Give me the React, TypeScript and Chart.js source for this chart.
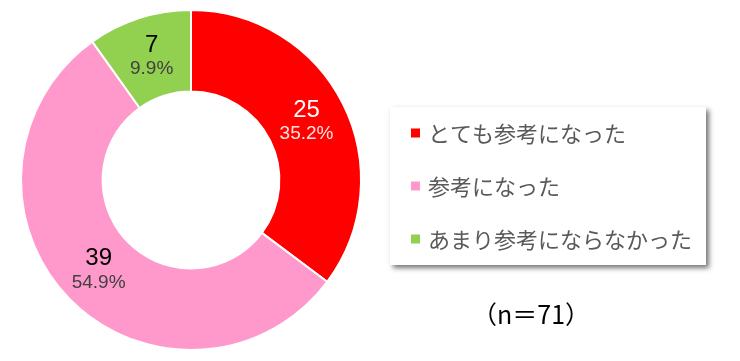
import React, { useEffect, useRef } from "react";
import { Chart, registerables } from "chart.js";

Chart.register(...registerables);

const categories = ["とても参考になった", "参考になった", "あまり参考にならなかった"];
const counts = [25, 39, 7];
const colors = ["#FF0000", "#FF99CC", "#92D050"];
const numberColors = ["#FFFFFF", "#000000", "#000000"];
const percentColors = ["#FFE0E0", "#404040", "#404040"];

const total = counts.reduce((a, b) => a + b, 0);

const labelPlugin = {
  id: "sliceLabels",
  afterDatasetsDraw(chart: any) {
    const ctx = chart.ctx;
    const meta = chart.getDatasetMeta(0);
    ctx.save();
    ctx.textAlign = "center";
    ctx.textBaseline = "middle";
    meta.data.forEach((arc: any, i: number) => {
      const p = arc.tooltipPosition();
      const v = counts[i];
      const pct = ((v / total) * 100).toFixed(1) + "%";
      ctx.fillStyle = numberColors[i];
      ctx.font = "24px 'Liberation Sans', Arial, sans-serif";
      ctx.fillText(String(v), p.x, p.y - 12);
      ctx.fillStyle = percentColors[i];
      ctx.font = "19px 'Liberation Sans', Arial, sans-serif";
      ctx.fillText(pct, p.x, p.y + 12);
    });
    ctx.restore();
  },
};

const legendPlugin = {
  id: "boxLegend",
  afterDraw(chart: any) {
    const ctx = chart.ctx;
    const bx = 390, by = 107, bw = 316, bh = 158;
    ctx.save();
    ctx.shadowColor = "rgba(0,0,0,0.55)";
    ctx.shadowBlur = 5;
    ctx.shadowOffsetX = 3;
    ctx.shadowOffsetY = 3;
    ctx.fillStyle = "#FFFFFF";
    ctx.fillRect(bx, by, bw, bh);
    ctx.restore();

    ctx.save();
    const rows = [133, 186, 239];
    ctx.textBaseline = "middle";
    ctx.textAlign = "left";
    ctx.font = "22px 'Noto Sans CJK JP', sans-serif";
    const labels = chart.data.labels as string[];
    labels.forEach((lab: string, i: number) => {
      const y = rows[i];
      ctx.fillStyle = colors[i];
      ctx.fillRect(411, y - 4.5, 9, 9);
      ctx.fillStyle = "#595959";
      ctx.fillText(lab, 428, y + 1);
    });

    ctx.fillStyle = "#000000";
    ctx.textAlign = "center";
    ctx.font = "25px 'Noto Sans CJK JP', sans-serif";
    ctx.fillText("（n＝" + total + "）", 531, 314);
    ctx.restore();
  },
};

export default function App() {
  const ref = useRef<HTMLCanvasElement>(null);
  useEffect(() => {
    if (!ref.current) return;
    const chart = new Chart(ref.current, {
      type: "doughnut",
      data: {
        labels: categories,
        datasets: [
          {
            data: counts,
            backgroundColor: colors,
            borderColor: "#FFFFFF",
            borderWidth: 2,
            hoverOffset: 0,
          },
        ],
      },
      options: {
        animation: false,
        responsive: false,
        maintainAspectRatio: false,
        radius: 170,
        cutout: "52%",
        layout: { padding: { left: 21, right: 379, top: 10, bottom: 11 } },
        plugins: {
          legend: { display: false },
          tooltip: { enabled: false },
        },
        events: [],
      } as any,
      plugins: [labelPlugin, legendPlugin],
    });
    return () => chart.destroy();
  }, []);
  return (
    <div style={{ position: "fixed", left: 0, top: 0, width: 740, height: 361, background: "#fff" }}>
      <canvas ref={ref} width={740} height={361} style={{ width: 740, height: 361 }} />
    </div>
  );
}
